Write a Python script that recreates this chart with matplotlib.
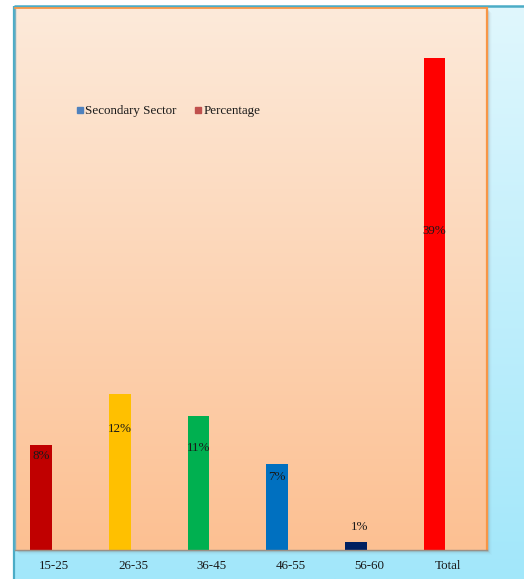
import numpy as np
import matplotlib
matplotlib.use('Agg')
import matplotlib.pyplot as plt
from matplotlib.lines import Line2D
from matplotlib.patches import Rectangle

# ---- data ----
categories = ['15-25', '26-35', '36-45', '46-55', '56-60', 'Total']
values = [8.3, 12.4, 10.6, 6.8, 0.6, 39.0]
value_labels = ['8%', '12%', '11%', '7%', '1%', '39%']
bar_colors = ['#c00000', '#ffc000', '#00b050', '#0070c0', '#002060', '#ff0000']
legend_labels = ['Secondary Sector', 'Percentage']
legend_colors = ['#4f81bd', '#c0504d']
label_y = [7.46, 9.6, 8.1, 5.8, 1.83, 25.3]
label_dx = [0.0, 0.0, 0.0, 0.0, 0.05, 0.0]

plt.rcParams['font.family'] = ['Liberation Serif', 'DejaVu Serif']
TXT = '#1a1a1a'
FS = 9.4

W, H = 524, 579
fig = plt.figure(figsize=(W / 100, H / 100), dpi=100)
fig.patch.set_facecolor('white')

# ---- background frame (pixel coordinates) ----
bg = fig.add_axes([0, 0, 1, 1], zorder=-5)
g = np.linspace(0, 1, 256)[:, None, None]
top = np.array([224, 247, 253]) / 255
bot = np.array([162, 231, 250]) / 255
img = top[None, None, :] * (1 - g) + bot[None, None, :] * g
bg.imshow(img, extent=[14, W, H, 6], aspect='auto', interpolation='bilinear')
for k, a in [(1, 0.22), (2, 0.14), (3, 0.08), (4, 0.04), (5, 0.02)]:
    bg.add_patch(Rectangle((15 + k, 8 + k), 472, 542, facecolor='#6f6f6f',
                           alpha=a, lw=0))
bg.plot([14, 14], [6, H], color='#4bacc6', lw=1.6, solid_capstyle='butt')
bg.plot([14, W], [6, 6], color='#4bacc6', lw=1.8, solid_capstyle='butt')
bg.set_xlim(0, W)
bg.set_ylim(H, 0)
bg.axis('off')

# ---- main plot ----
ax = fig.add_axes([15 / W, (H - 550) / H, 472 / W, 542 / H], zorder=1)
ymax = 43
ptop = np.array([253, 234, 218]) / 255
pbot = np.array([252, 192, 146]) / 255
pimg = ptop[None, None, :] * (1 - g) + pbot[None, None, :] * g
ax.imshow(pimg, extent=[-0.5, 5.5, 0, ymax], aspect='auto',
          interpolation='bilinear', zorder=0)

x = np.arange(len(categories))
ax.bar(x - 0.169, values, width=0.275, color=bar_colors, zorder=2)
for i, (lab, ly) in enumerate(zip(value_labels, label_y)):
    ax.text(x[i] - 0.169 + label_dx[i], ly, lab, ha='center', va='center',
            fontsize=FS, color=TXT, zorder=3)

ax.set_xlim(-0.5, 5.5)
ax.set_ylim(0, ymax)
ax.set_xticks(x, categories)
ax.set_yticks([])
ax.tick_params(axis='x', length=0, pad=7, labelsize=FS, labelcolor=TXT)

ax.spines['top'].set_color('#f79646')
ax.spines['top'].set_linewidth(1.3)
ax.spines['right'].set_color('#f79646')
ax.spines['right'].set_linewidth(1.6)
ax.spines['left'].set_color('#7fb2c2')
ax.spines['left'].set_linewidth(1.0)
ax.spines['bottom'].set_color('#9a8f86')
ax.spines['bottom'].set_linewidth(1.0)

handles = [Line2D([], [], marker='s', linestyle='none', color=c,
                  markersize=5.0) for c in legend_colors]
fig.legend(handles, legend_labels, loc='center left',
           bbox_to_anchor=(70 / W, 1 - 111 / H), bbox_transform=fig.transFigure,
           frameon=False, borderpad=0, handlelength=0.55, handletextpad=0.1,
           columnspacing=1.4, fontsize=FS, ncol=2, labelcolor=TXT)

fig.savefig('out.png', dpi=100)
